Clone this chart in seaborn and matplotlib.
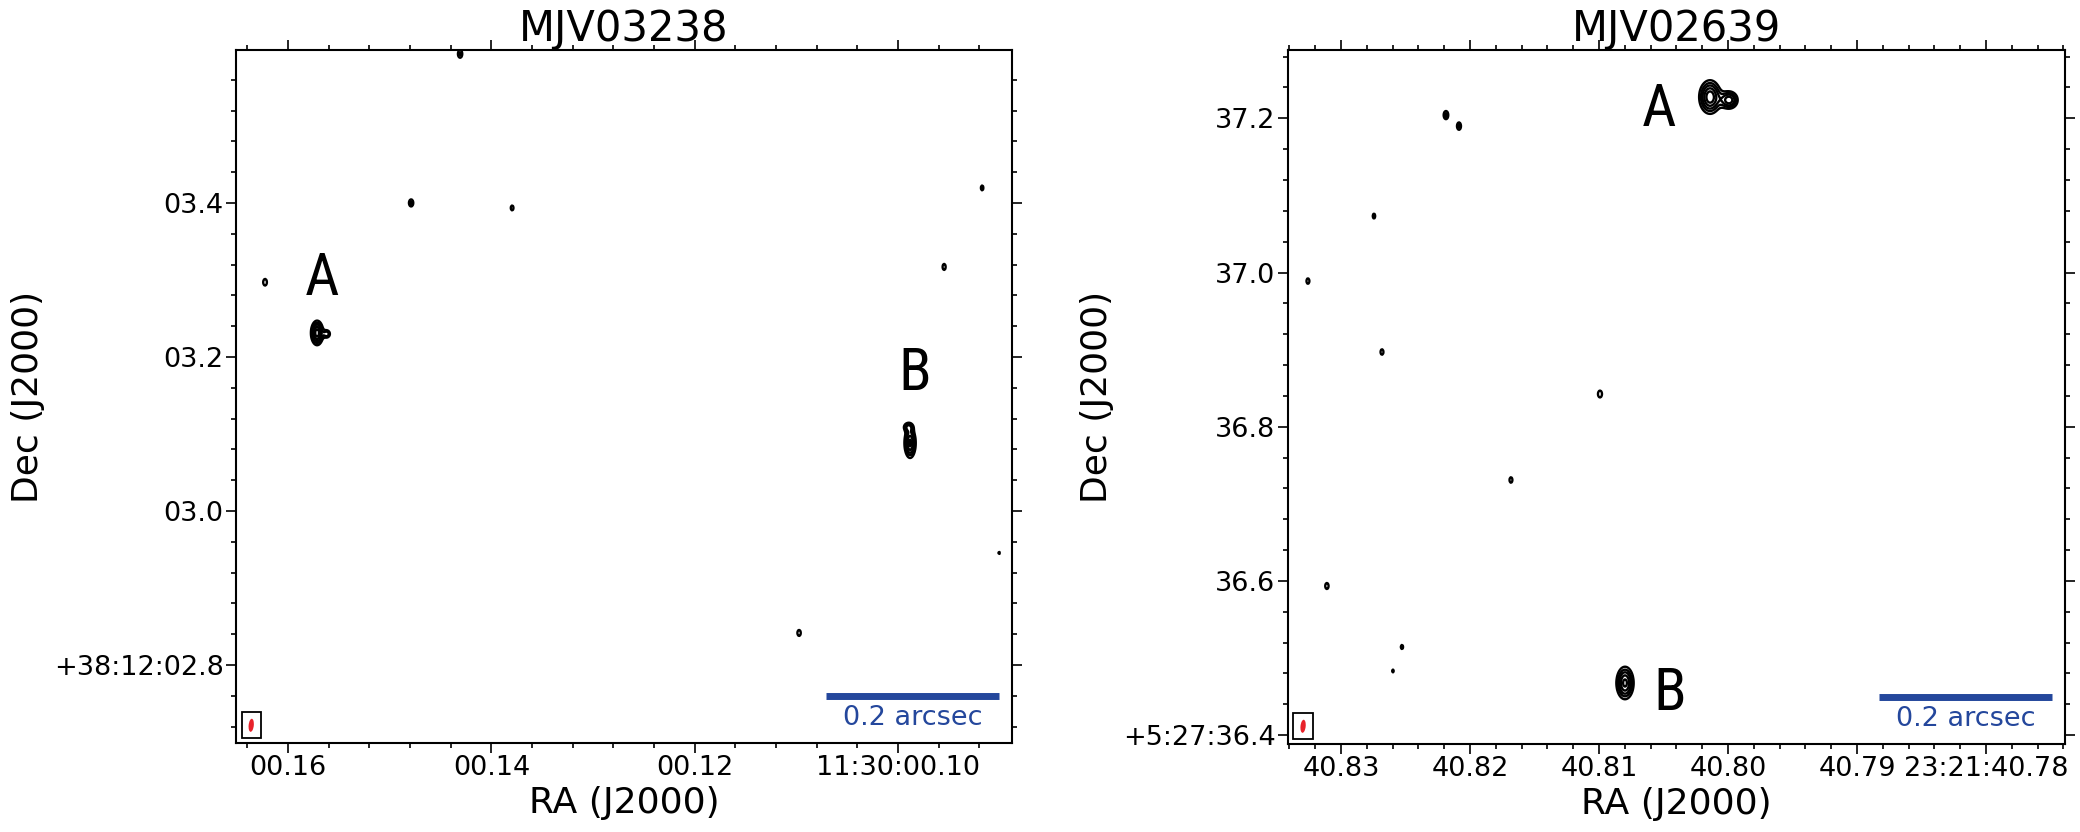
import numpy as np
import seaborn as sns
import matplotlib.pyplot as plt
from matplotlib.patches import Ellipse, Rectangle
from matplotlib.ticker import MultipleLocator

sns.set_style('ticks')
plt.rcParams['font.family'] = ['DejaVu Sans']
plt.rcParams.update({'text.color': 'black', 'axes.labelcolor': 'black',
                     'xtick.color': 'black', 'ytick.color': 'black',
                     'axes.edgecolor': 'black'})

# -----------------------------
# Data (RA in seconds of time, Dec in arcsec)
# -----------------------------
FOV = 0.9            # arcsec, field of view of each cut-out
SCALEBAR = 0.2       # arcsec
BEAM_MAJ = 0.017     # arcsec
BEAM_MIN = 0.006     # arcsec
LEVELS = [1.0, 1.5, 2.0, 2.6, 3.2]
BLUE = '#24479c'

# MJV03238  (11:30:00.xx  +38:12:0x.x)
p1_title = 'MJV03238'
p1_dec_deg = 38.2008
p1_ra_lim = (0.16512, 0.08877)
p1_dec_lim = (2.6987, 3.5987)
p1_xticks = [0.16, 0.14, 0.12, 0.10]
p1_xticklabels = ['00.16', '00.14', '00.12', '11:30:00.10']
p1_yticks = [2.8, 3.0, 3.2, 3.4]
p1_yticklabels = ['+38:12:02.8', '03.0', '03.2', '03.4']
p1_xminor, p1_yminor = 0.004, 0.04
p1_src_ra = [0.15715, 0.15617, 0.09881, 0.09900,
             0.16227, 0.14790, 0.14308, 0.13796, 0.09546, 0.09172, 0.09005, 0.10973]
p1_src_dec = [3.2312, 3.2299, 3.0883, 3.1091,
              3.2970, 3.4000, 3.5935, 3.3935, 3.3169, 3.4195, 2.9455, 2.8416]
p1_src_peak = [3.6, 1.8, 3.4, 1.7,
               1.5, 1.6, 1.6, 1.3, 1.4, 1.3, 1.1, 1.4]
p1_src_sx = [0.0045, 0.0030, 0.0042, 0.0040,
             0.0024, 0.0026, 0.0026, 0.0022, 0.0022, 0.0020, 0.0018, 0.0024]
p1_src_sy = [0.0100, 0.0040, 0.0125, 0.0040,
             0.0048, 0.0048, 0.0052, 0.0044, 0.0048, 0.0044, 0.0036, 0.0048]
p1_lab = ['A', 'B']
p1_lab_ra = [0.15666, 0.09831]
p1_lab_dec = [3.3013, 3.1779]

# MJV02639  (23:21:40.xx  +5:27:3x.x)
p2_title = 'MJV02639'
p2_dec_deg = 5.4603
p2_ra_lim = (40.83411, 40.77387)
p2_dec_lim = (36.3885, 37.2885)
p2_xticks = [40.83, 40.82, 40.81, 40.80, 40.79, 40.78]
p2_xticklabels = ['40.83', '40.82', '40.81', '40.80', '40.79', '23:21:40.78']
p2_yticks = [36.4, 36.6, 36.8, 37.0, 37.2]
p2_yticklabels = ['+5:27:36.4', '36.6', '36.8', '37.0', '37.2']
p2_xminor, p2_yminor = 0.002, 0.04
p2_src_ra = [40.80139, 40.79990, 40.80798,
             40.82186, 40.82085, 40.82744, 40.83256, 40.82682, 40.80992,
             40.81682, 40.83109, 40.82527, 40.82597]
p2_src_dec = [37.2276, 37.2237, 36.4676,
              37.2042, 37.1899, 37.0732, 36.9889, 36.8969, 36.8424,
              36.7309, 36.5934, 36.5143, 36.4832]
p2_src_peak = [3.7, 3.0, 3.4,
               1.7, 1.6, 1.3, 1.35, 1.35, 1.5,
               1.35, 1.4, 1.25, 1.15]
p2_src_sx = [0.0078, 0.0066, 0.0064,
             0.0026, 0.0024, 0.0020, 0.0022, 0.0022, 0.0026,
             0.0022, 0.0024, 0.0020, 0.0019]
p2_src_sy = [0.0135, 0.0075, 0.0135,
             0.0052, 0.0050, 0.0044, 0.0046, 0.0046, 0.0050,
             0.0046, 0.0048, 0.0040, 0.0036]
p2_lab = ['A', 'B']
p2_lab_ra = [40.80535, 40.80449]
p2_lab_dec = [37.2120, 36.4534]


def model_image(ra_lim, dec_lim, dec_deg, ra0, dec0, peak, sx, sy, n=800):
    ra = np.linspace(min(ra_lim), max(ra_lim), n)
    dec = np.linspace(min(dec_lim), max(dec_lim), n)
    RA, DEC = np.meshgrid(ra, dec)
    scale = 15.0 * np.cos(np.radians(dec_deg))  # arcsec per second of RA
    img = np.zeros_like(RA)
    for r, d, p, a, b in zip(ra0, dec0, peak, sx, sy):
        dx = (RA - r) * scale
        dy = DEC - d
        img += p * np.exp(-0.5 * ((dx / a) ** 2 + (dy / b) ** 2))
    return RA, DEC, img


def draw_panel(ax, title, dec_deg, ra_lim, dec_lim, xticks, xticklabels, yticks,
               yticklabels, xminor, yminor, src_ra, src_dec, src_peak, src_sx,
               src_sy, lab, lab_ra, lab_dec):
    RA, DEC, img = model_image(ra_lim, dec_lim, dec_deg, src_ra, src_dec,
                               src_peak, src_sx, src_sy)
    ax.contour(RA, DEC, img, levels=LEVELS, colors='black', linewidths=1.7)

    ax.set_xlim(ra_lim)
    ax.set_ylim(dec_lim)
    ax.set_xticks(xticks)
    ax.set_xticklabels(xticklabels)
    ax.set_yticks(yticks)
    ax.set_yticklabels(yticklabels)
    ax.xaxis.set_minor_locator(MultipleLocator(xminor))
    ax.yaxis.set_minor_locator(MultipleLocator(yminor))
    ax.tick_params(which='both', direction='out', top=True, right=True,
                   labelsize=19.5, width=1.2, pad=2, colors='black')
    ax.tick_params(which='major', length=7)
    ax.tick_params(which='minor', length=3.6)
    for s in ax.spines.values():
        s.set_linewidth(1.5)
        s.set_color('black')
        s.set_visible(True)

    ax.set_title(title, fontsize=30, pad=1)
    ax.set_xlabel('RA (J2000)', fontsize=26, labelpad=3)
    ax.set_ylabel('Dec (J2000)', fontsize=26, labelpad=6)

    for t, r, d in zip(lab, lab_ra, lab_dec):
        ax.text(r, d, t, fontsize=43, ha='center', va='center', fontstretch='condensed',
                family=['DejaVu Sans Condensed', 'Liberation Sans Narrow',
                        'Roboto Condensed', 'DejaVu Sans'])

    # scale bar
    frac = SCALEBAR / FOV
    ax.plot([0.983 - frac, 0.983], [0.068, 0.068], transform=ax.transAxes,
            color=BLUE, lw=5, solid_capstyle='butt')
    ax.text(0.983 - frac / 2, 0.036, f'{SCALEBAR} arcsec', transform=ax.transAxes,
            color=BLUE, fontsize=19.5, ha='center', va='center')

    # beam
    ax.add_patch(Rectangle((0.007, 0.007), 0.025, 0.037, transform=ax.transAxes,
                           fill=False, edgecolor='black', lw=1.3))
    ax.add_patch(Ellipse((0.0195, 0.0255), BEAM_MIN / FOV, BEAM_MAJ / FOV, angle=-5,
                         transform=ax.transAxes, facecolor='#e8222a', edgecolor='none'))


fig = plt.figure(figsize=(20.8, 8.32), dpi=100)
ax1 = fig.add_axes([0.1135, 0.107, 0.3731, 0.833])
ax2 = fig.add_axes([0.6192, 0.1058, 0.3736, 0.834])

draw_panel(ax1, p1_title, p1_dec_deg, p1_ra_lim, p1_dec_lim, p1_xticks, p1_xticklabels,
           p1_yticks, p1_yticklabels, p1_xminor, p1_yminor, p1_src_ra, p1_src_dec,
           p1_src_peak, p1_src_sx, p1_src_sy, p1_lab, p1_lab_ra, p1_lab_dec)
draw_panel(ax2, p2_title, p2_dec_deg, p2_ra_lim, p2_dec_lim, p2_xticks, p2_xticklabels,
           p2_yticks, p2_yticklabels, p2_xminor, p2_yminor, p2_src_ra, p2_src_dec,
           p2_src_peak, p2_src_sx, p2_src_sy, p2_lab, p2_lab_ra, p2_lab_dec)

fig.savefig('out.png', dpi=100)
